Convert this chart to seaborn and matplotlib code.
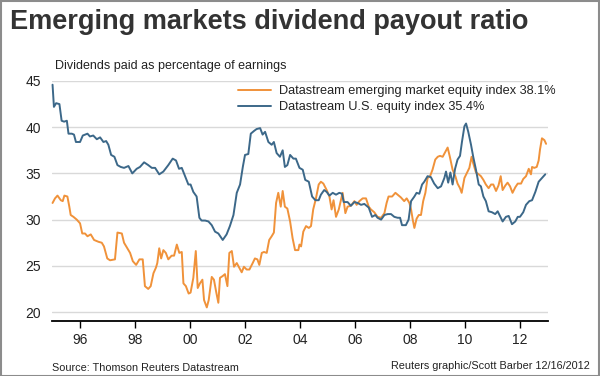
import matplotlib
matplotlib.use("Agg")
import matplotlib.pyplot as plt
import matplotlib.font_manager as fm
import seaborn as sns
import pandas as pd

# ---------------- data ----------------
us_years = [1995.00, 1995.05, 1995.13, 1995.25, 1995.33, 1995.42, 1995.52, 1995.58, 1995.70, 1995.78,
            1995.85, 1996.00, 1996.10, 1996.27, 1996.36, 1996.48, 1996.61, 1996.73, 1996.85, 1996.95,
            1997.03, 1997.13, 1997.25, 1997.36, 1997.48, 1997.60, 1997.76, 1997.90, 1998.06, 1998.18,
            1998.33, 1998.48, 1998.61, 1998.73, 1998.88, 1999.03, 1999.21, 1999.37, 1999.49, 1999.60,
            1999.70, 1999.82, 1999.94, 2000.02, 2000.12, 2000.24, 2000.34, 2000.42, 2000.55, 2000.67,
            2000.79, 2000.91, 2001.03, 2001.19, 2001.33, 2001.45, 2001.58, 2001.70, 2001.82, 2001.92,
            2002.00, 2002.12, 2002.21, 2002.33, 2002.42, 2002.55, 2002.64, 2002.73, 2002.85, 2002.97,
            2003.05, 2003.15, 2003.27, 2003.37, 2003.45, 2003.54, 2003.64, 2003.76, 2003.85, 2003.98,
            2004.10, 2004.19, 2004.32, 2004.44, 2004.56, 2004.68, 2004.76, 2004.88, 2004.97, 2005.07,
            2005.19, 2005.31, 2005.43, 2005.53, 2005.59, 2005.73, 2005.85, 2005.98, 2006.10, 2006.22,
            2006.34, 2006.50, 2006.62, 2006.74, 2006.82, 2006.95, 2007.07, 2007.19, 2007.31, 2007.43,
            2007.55, 2007.64, 2007.71, 2007.85, 2007.95, 2008.04, 2008.16, 2008.24, 2008.34, 2008.44,
            2008.52, 2008.64, 2008.76, 2008.88, 2009.01, 2009.13, 2009.25, 2009.31, 2009.39, 2009.47,
            2009.55, 2009.64, 2009.73, 2009.82, 2009.89, 2009.98, 2010.04, 2010.12, 2010.22, 2010.30,
            2010.40, 2010.50, 2010.58, 2010.67, 2010.76, 2010.86, 2010.98, 2011.10, 2011.19, 2011.27,
            2011.37, 2011.49, 2011.59, 2011.71, 2011.83, 2011.92, 2012.00, 2012.12, 2012.22, 2012.34,
            2012.44, 2012.56, 2012.68, 2012.80, 2012.92]
us_values = [44.6, 42.2, 42.6, 42.5, 40.7, 40.6, 40.7, 39.3, 39.3, 39.2,
             38.4, 38.4, 39.1, 39.3, 39.0, 39.1, 38.7, 38.9, 38.4, 38.5,
             38.1, 37.0, 36.8, 35.9, 35.7, 35.6, 35.8, 35.0, 35.5, 35.7,
             36.2, 35.9, 35.6, 35.6, 34.9, 35.2, 35.9, 36.6, 36.4, 35.5,
             35.6, 34.7, 33.8, 33.8, 33.0, 32.5, 30.2, 29.9, 29.9, 29.8,
             29.4, 28.7, 28.5, 27.8, 28.4, 29.3, 30.5, 32.9, 33.8, 35.7,
             37.0, 37.1, 39.3, 39.6, 39.8, 39.9, 39.2, 39.5, 38.4, 38.1,
             38.4, 37.2, 36.8, 37.5, 35.7, 35.9, 37.0, 36.6, 36.6, 35.6,
             35.4, 34.3, 34.1, 32.5, 32.1, 32.1, 32.7, 33.2, 33.0, 32.6,
             32.9, 32.7, 32.9, 32.8, 31.9, 31.9, 31.5, 31.9, 31.8, 31.6,
             31.7, 31.3, 30.3, 30.5, 30.2, 30.0, 30.5, 30.6, 30.6, 30.3,
             30.2, 30.2, 29.4, 29.4, 30.0, 32.0, 32.5, 32.9, 32.8, 33.8,
             34.1, 34.7, 34.6, 33.9, 33.4, 33.6, 34.5, 35.2, 34.0, 35.1,
             33.8, 35.5, 36.5, 36.9, 38.4, 40.1, 40.4, 39.5, 38.1, 36.8,
             35.4, 33.8, 33.6, 32.5, 32.0, 30.9, 30.8, 30.6, 30.9, 30.4,
             29.8, 30.3, 30.4, 29.5, 29.8, 30.3, 30.3, 30.8, 31.6, 32.0,
             32.1, 33.0, 34.1, 34.5, 34.9]

em_years = [1995.00, 1995.09, 1995.18, 1995.30, 1995.37, 1995.43, 1995.54, 1995.61, 1995.66, 1995.76,
            1995.88, 1996.00, 1996.08, 1996.18, 1996.27, 1996.39, 1996.51, 1996.67, 1996.79, 1996.87,
            1996.99, 1997.09, 1997.27, 1997.36, 1997.52, 1997.60, 1997.72, 1997.82, 1997.92, 1998.04,
            1998.16, 1998.28, 1998.36, 1998.48, 1998.57, 1998.67, 1998.76, 1998.81, 1998.88, 1998.95,
            1999.03, 1999.12, 1999.21, 1999.33, 1999.42, 1999.52, 1999.61, 1999.70, 1999.76, 1999.85,
            1999.95, 2000.02, 2000.12, 2000.21, 2000.28, 2000.36, 2000.45, 2000.51, 2000.61, 2000.68,
            2000.79, 2000.87, 2000.95, 2001.03, 2001.09, 2001.19, 2001.27, 2001.36, 2001.43, 2001.52,
            2001.60, 2001.70, 2001.79, 2001.88, 2001.96, 2002.06, 2002.16, 2002.28, 2002.36, 2002.45,
            2002.52, 2002.61, 2002.69, 2002.79, 2002.88, 2002.97, 2003.05, 2003.13, 2003.21, 2003.30,
            2003.37, 2003.45, 2003.54, 2003.64, 2003.73, 2003.82, 2003.94, 2003.98, 2004.04, 2004.12,
            2004.22, 2004.32, 2004.40, 2004.48, 2004.58, 2004.68, 2004.76, 2004.85, 2004.97, 2005.07,
            2005.15, 2005.22, 2005.31, 2005.41, 2005.49, 2005.55, 2005.65, 2005.73, 2005.85, 2005.98,
            2006.06, 2006.16, 2006.28, 2006.40, 2006.50, 2006.58, 2006.70, 2006.82, 2006.95, 2007.07,
            2007.15, 2007.22, 2007.35, 2007.47, 2007.55, 2007.67, 2007.79, 2007.88, 2007.98, 2008.04,
            2008.10, 2008.16, 2008.24, 2008.32, 2008.40, 2008.48, 2008.56, 2008.64, 2008.73, 2008.82,
            2008.92, 2009.01, 2009.09, 2009.19, 2009.28, 2009.37, 2009.45, 2009.55, 2009.65, 2009.73,
            2009.82, 2009.88, 2009.98, 2010.06, 2010.16, 2010.24, 2010.30, 2010.40, 2010.50, 2010.58,
            2010.67, 2010.76, 2010.86, 2010.95, 2011.03, 2011.13, 2011.22, 2011.30, 2011.37, 2011.47,
            2011.55, 2011.64, 2011.73, 2011.83, 2011.92, 2012.04, 2012.12, 2012.22, 2012.32, 2012.40,
            2012.44, 2012.52, 2012.61, 2012.68, 2012.73, 2012.80, 2012.89, 2012.95]
em_values = [31.8, 32.3, 32.6, 32.1, 32.0, 32.6, 32.5, 31.4, 30.5, 30.3,
             30.0, 29.6, 28.5, 28.5, 28.2, 28.4, 27.8, 27.6, 27.5, 27.1,
             25.8, 25.6, 25.7, 28.6, 28.5, 27.5, 26.9, 26.4, 25.5, 25.1,
             25.7, 25.7, 22.8, 22.5, 22.8, 24.2, 24.8, 25.3, 26.9, 25.8,
             26.7, 26.4, 25.7, 26.1, 26.1, 27.3, 26.4, 26.5, 23.1, 22.8,
             22.0, 22.1, 23.7, 26.6, 22.6, 23.1, 23.5, 21.3, 20.5, 21.3,
             23.8, 23.5, 22.2, 21.0, 23.7, 23.9, 24.1, 22.8, 26.4, 26.6,
             24.9, 25.3, 24.8, 24.3, 24.9, 24.6, 24.6, 25.3, 25.8, 25.7,
             25.1, 26.4, 26.5, 26.4, 27.8, 28.2, 28.6, 31.8, 32.9, 31.4,
             33.1, 31.4, 31.2, 29.8, 28.0, 26.7, 26.7, 27.3, 27.1, 28.7,
             29.3, 29.1, 29.3, 31.1, 32.3, 33.8, 34.1, 33.9, 33.2, 32.5,
             31.1, 32.1, 30.3, 31.1, 32.1, 32.9, 30.7, 31.4, 31.5, 32.0,
             31.6, 32.0, 32.3, 32.3, 31.4, 31.1, 30.8, 30.3, 30.2, 30.7,
             31.8, 32.5, 32.5, 32.9, 32.7, 32.4, 32.0, 32.3, 31.8, 31.1,
             30.0, 29.1, 30.1, 30.5, 30.5, 32.0, 32.9, 34.5, 34.7, 35.4,
             36.5, 36.8, 36.9, 36.8, 37.3, 37.8, 36.8, 35.4, 34.7, 33.9,
             33.4, 32.9, 34.5, 35.0, 35.6, 36.8, 36.1, 35.1, 34.9, 34.7,
             34.3, 33.8, 33.4, 33.8, 33.8, 33.1, 33.7, 34.7, 33.2, 33.7,
             34.0, 33.6, 32.9, 33.5, 33.9, 33.9, 34.4, 34.7, 35.5, 34.9,
             35.7, 35.6, 35.7, 36.4, 37.6, 38.8, 38.6, 38.2]

em_label = "Datastream emerging market equity index 38.1%"
us_label = "Datastream U.S. equity index 35.4%"
x_ticks = [1996, 1998, 2000, 2002, 2004, 2006, 2008, 2010, 2012]
x_tick_labels = ["96", "98", "00", "02", "04", "06", "08", "10", "12"]
y_ticks = [20, 25, 30, 35, 40, 45]

title = "Emerging markets dividend payout ratio"
subtitle = "Dividends paid as percentage of earnings"
source = "Source: Thomson Reuters Datastream"
credit = "Reuters graphic/Scott Barber 12/16/2012"

# ---------------- style ----------------
sns.set_style("white")
installed = {f.name for f in fm.fontManager.ttflist}
narrow = "Liberation Sans Narrow" if "Liberation Sans Narrow" in installed else "Liberation Sans"
plt.rcParams["font.family"] = ["Liberation Sans", "DejaVu Sans"]

ORANGE = "#F0923A"
BLUE = "#3C6889"
TEXT = "#222222"

df = pd.concat([
    pd.DataFrame({"year": em_years, "value": em_values, "series": em_label}),
    pd.DataFrame({"year": us_years, "value": us_values, "series": us_label}),
], ignore_index=True)

fig = plt.figure(figsize=(6.0, 3.76), dpi=100)
ax = fig.add_axes([52 / 600, 1 - 321 / 376, 496 / 600, 240 / 376])

sns.lineplot(data=df, x="year", y="value", hue="series",
             palette={em_label: ORANGE, us_label: BLUE},
             linewidth=1.4, ax=ax, legend=True, estimator=None, sort=False)
for ln in ax.get_lines():
    ln.set_clip_on(False)

ax.set_xlim(1994.98, 2013.02)
ax.set_ylim(19.03, 45.0)
ax.set_xticks(x_ticks)
ax.set_xticklabels(x_tick_labels)
ax.set_yticks(y_ticks)
ax.set_xlabel("")
ax.set_ylabel("")

ax.grid(axis="y", color="#d9d9d9", linewidth=1.0)
ax.set_axisbelow(True)
for s in ["left", "right", "top"]:
    ax.spines[s].set_visible(False)
ax.spines["bottom"].set_color("black")
ax.spines["bottom"].set_linewidth(1.3)
ax.tick_params(axis="x", which="both", bottom=True, length=5, width=1,
               color="black", direction="out", pad=4, labelsize=10, labelcolor=TEXT)
ax.tick_params(axis="y", length=0, pad=8, labelsize=10, labelcolor=TEXT)
for lab in ax.get_xticklabels() + ax.get_yticklabels():
    lab.set_family([narrow, "DejaVu Sans"])

leg = ax.legend(loc="upper left", bbox_to_anchor=((238 - 52) / 496, 1 - (85 - 81) / 240),
                frameon=False, fontsize=9.2, handlelength=2.6, handletextpad=0.6,
                labelspacing=0.35, borderaxespad=0, borderpad=0)
for t in leg.get_texts():
    t.set_color(TEXT)

fig.text(10 / 600, 1 - 22 / 376, title, fontsize=19.5, fontweight="bold",
         family=[narrow, "DejaVu Sans"], color="#333333", va="center", ha="left")
fig.text(55 / 600, 1 - 66 / 376, subtitle, fontsize=9.0, color=TEXT,
         family=[narrow, "DejaVu Sans"], va="center", ha="left")
fig.text(52 / 600, 1 - 368 / 376, source, fontsize=7.8, color=TEXT,
         family=[narrow, "DejaVu Sans"], va="center", ha="left")
fig.text(590 / 600, 1 - 366 / 376, credit, fontsize=7.8, color=TEXT,
         family=[narrow, "DejaVu Sans"], va="center", ha="right")

# outer frame
frame = plt.Rectangle((0.5 / 600, 0.5 / 376), 598.5 / 600, 375 / 376, transform=fig.transFigure,
                      fill=False, edgecolor="#8c8c8c", linewidth=1.5)
fig.patches.append(frame)

fig.savefig("out.png", dpi=100)
